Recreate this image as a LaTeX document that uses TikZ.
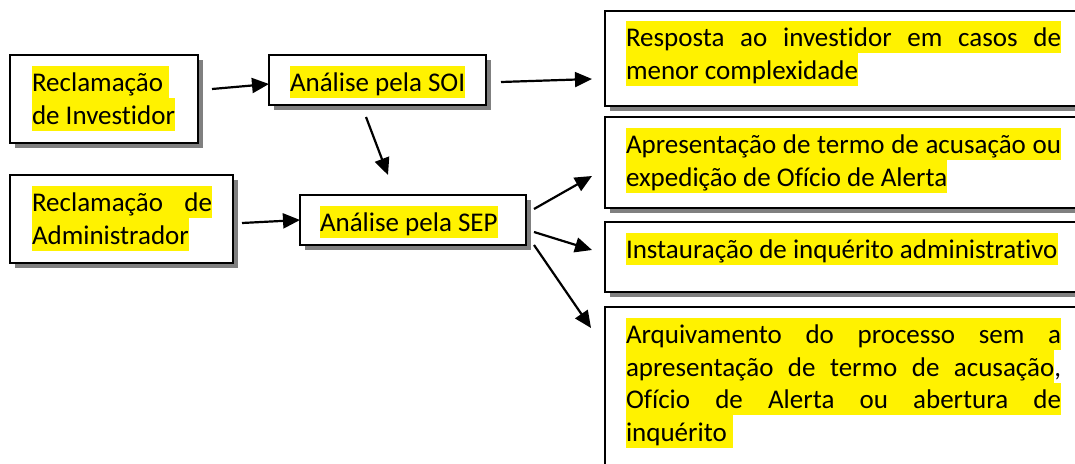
\documentclass[tikz,border=0pt]{standalone}
\usepackage{fontspec}
\setmainfont{Carlito}[Ligatures={NoCommon}]
\usetikzlibrary{arrows.meta,shadows,calc}
\begin{document}
\begin{tikzpicture}[x=1pt,y=-1pt,
  box/.style={draw, line width=2pt, fill=white, outer sep=0pt, inner sep=0pt, anchor=north west,
    drop shadow={shadow xshift=5pt, shadow yshift=-5pt, fill=black!50, opacity=1}},
  ln/.style={anchor=north west, fill=yellow, inner sep=0pt, outer sep=0pt,
    text height=25.8pt, text depth=6.6pt, font=\fontsize{27}{32}\selectfont},
  pl/.style={anchor=north west, inner sep=0pt, outer sep=0pt,
    text height=25.8pt, text depth=6.6pt, font=\fontsize{27}{32}\selectfont},
  arr/.style={line width=2.2pt, -{Triangle[length=17pt,width=15pt]}}]
\useasboundingbox (0,0) rectangle (1075,463);
% boxes
\node[box, minimum width=188, minimum height=88] (inv) at (10,55) {};
\node[box, minimum width=217, minimum height=50] (soi) at (269,55) {};
\node[box, minimum width=223, minimum height=88] (adm) at (10,175) {};
\node[box, minimum width=226, minimum height=50] (sep) at (300,195) {};
\node[box, minimum width=490, minimum height=95] (r1) at (605,11) {};
\node[box, minimum width=490, minimum height=91] (r2) at (605,117) {};
\node[box, minimum width=490, minimum height=70] (r3) at (605,222) {};
\node[box, minimum width=490, minimum height=175] (r4) at (605,307) {};
% texts
\node[ln] (inv1) at (32,66) {Reclamação\kern0.23em};
\node[ln] (inv2) at (32,98.4) {de Investidor};
\node[ln] (soi1) at (290,66) {Análise pela SOI};
\node[ln] (adm1) at (32,186) {\makebox[180pt][s]{Reclamação de}};
\node[ln] (adm2) at (32,218.4) {Administrador};
\node[ln] (sep1) at (320,206) {Análise pela SEP};
\node[ln] (r1a) at (626,21) {\makebox[435pt][s]{Resposta ao investidor em casos de}};
\node[ln] (r1b) at (626,53.4) {menor complexidade};
\node[ln] (r2a) at (626,128) {\makebox[435pt][s]{Apresentação de termo de acusação ou}};
\node[ln] (r2b) at (626,160.4) {expedição de Ofício de Alerta};
\node[ln] (r3a) at (626,233) {Instauração de inquérito administrativo};
\node[ln] (r4a) at (626,318) {\makebox[435pt][s]{Arquivamento do processo sem a}};
\node[ln] (r4b) at (626,350.4) {\makebox[428.3pt][s]{apresentação de termo de acusação}};
\node[pl] (r4c) at (r4b.north east) {,};
\node[ln] (r4d) at (626,382.8) {\makebox[435pt][s]{Ofício de Alerta ou abertura de}};
\node[ln] (r4e) at (626,415.2) {inquérito\kern0.23em};
% connector end points
\coordinate (a1s) at ($(inv.east)+(14,-10)$);
\coordinate (a1e) at ($(soi.west)+(0,4)$);
\coordinate (a2s) at ($(adm.east)+(9,4)$);
\coordinate (a2e) at (sep.west);
\coordinate (a3s) at ($(soi.east)+(15,2)$);
\coordinate (a3e) at ($(r1.west)+(-13,20.5)$);
\coordinate (a4s) at ($(soi.south)+(-11.5,12)$);
\coordinate (a4e) at ($(sep.north)+(-25,-20)$);
\coordinate (a5s) at ($(sep.east)+(8,-11)$);
\coordinate (a5e) at ($(r2.west)+(-13,13.5)$);
\coordinate (a6s) at ($(sep.east)+(8,12)$);
\coordinate (a6e) at ($(r3.west)+(-13,-7)$);
\coordinate (a7s) at ($(sep.south east)+(8,0)$);
\coordinate (a7e) at ($(r4.north west)+(-14,21)$);
\draw[arr] (a1s) -- (a1e);
\draw[arr] (a2s) -- (a2e);
\draw[arr] (a3s) -- (a3e);
\draw[arr] (a4s) -- (a4e);
\draw[arr] (a5s) -- (a5e);
\draw[arr] (a6s) -- (a6e);
\draw[arr] (a7s) -- (a7e);
\end{tikzpicture}
\end{document}
